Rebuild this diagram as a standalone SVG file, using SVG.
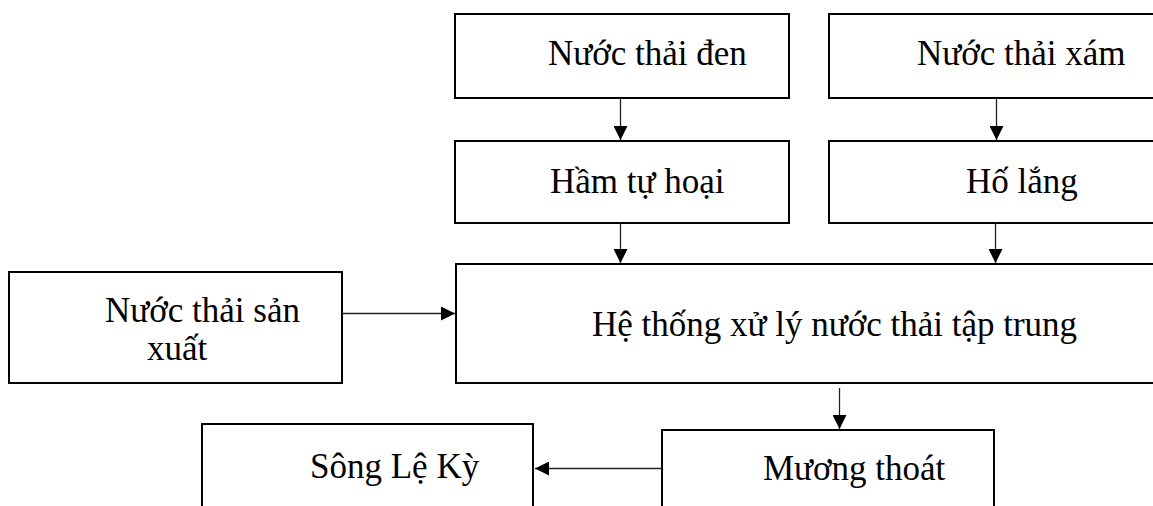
<svg xmlns="http://www.w3.org/2000/svg" width="1153" height="506" viewBox="0 0 1153 506">
  <style>
    .box { fill: #ffffff; stroke: #000000; stroke-width: 2; }
    .lbl { font-family: "Liberation Serif", "Times New Roman", serif; font-size: 35px; fill: #000000; }
    .conn { fill: none; stroke: #222222; stroke-width: 1.3; }
  </style>
  <defs>
    <marker id="arrow" markerUnits="userSpaceOnUse" markerWidth="14" markerHeight="14" refX="14" refY="7" orient="auto">
      <path d="M0,0 L14,7 L0,14 Z" fill="#000000"/>
    </marker>
  </defs>
  <rect width="1153" height="506" fill="#ffffff"/>

  <g id="node-nuoc-thai-den">
    <rect class="box" x="455" y="14" width="334" height="84"/>
    <text class="lbl" x="548" y="65">Nước thải đen</text>
  </g>
  <g id="node-nuoc-thai-xam">
    <rect class="box" x="829" y="14" width="340" height="84"/>
    <text class="lbl" x="917" y="65">Nước thải xám</text>
  </g>
  <g id="node-ham-tu-hoai">
    <rect class="box" x="455" y="141" width="334" height="82"/>
    <text class="lbl" x="550" y="193">Hầm tự hoại</text>
  </g>
  <g id="node-ho-lang">
    <rect class="box" x="829" y="141" width="340" height="82"/>
    <text class="lbl" x="966" y="193">Hố lắng</text>
  </g>
  <g id="node-nuoc-thai-san-xuat">
    <rect class="box" x="9" y="272" width="333" height="111"/>
    <text class="lbl" x="105" y="322">Nước thải sản</text>
    <text class="lbl" x="147" y="360">xuất</text>
  </g>
  <g id="node-he-thong-xu-ly">
    <rect class="box" x="456" y="264" width="720" height="119"/>
    <text class="lbl" x="592" y="336">Hệ thống xử lý nước thải tập trung</text>
  </g>
  <g id="node-song-le-ky">
    <rect class="box" x="202" y="424" width="331" height="100"/>
    <text class="lbl" x="310" y="478">Sông Lệ Kỳ</text>
  </g>
  <g id="node-muong-thoat">
    <rect class="box" x="662" y="430" width="332" height="100"/>
    <text class="lbl" x="763" y="480">Mương thoát</text>
  </g>

  <g id="connectors">
    <line class="conn" x1="620.5" y1="98" x2="620.5" y2="140" marker-end="url(#arrow)"/>
    <line class="conn" x1="996.5" y1="98" x2="996.5" y2="140" marker-end="url(#arrow)"/>
    <line class="conn" x1="620.5" y1="223" x2="620.5" y2="263" marker-end="url(#arrow)"/>
    <line class="conn" x1="995.5" y1="223" x2="995.5" y2="263" marker-end="url(#arrow)"/>
    <line class="conn" x1="342" y1="313.5" x2="455" y2="313.5" marker-end="url(#arrow)"/>
    <line class="conn" x1="839.5" y1="388" x2="839.5" y2="429" marker-end="url(#arrow)"/>
    <line class="conn" x1="662" y1="468.5" x2="535" y2="468.5" marker-end="url(#arrow)"/>
  </g>
</svg>
